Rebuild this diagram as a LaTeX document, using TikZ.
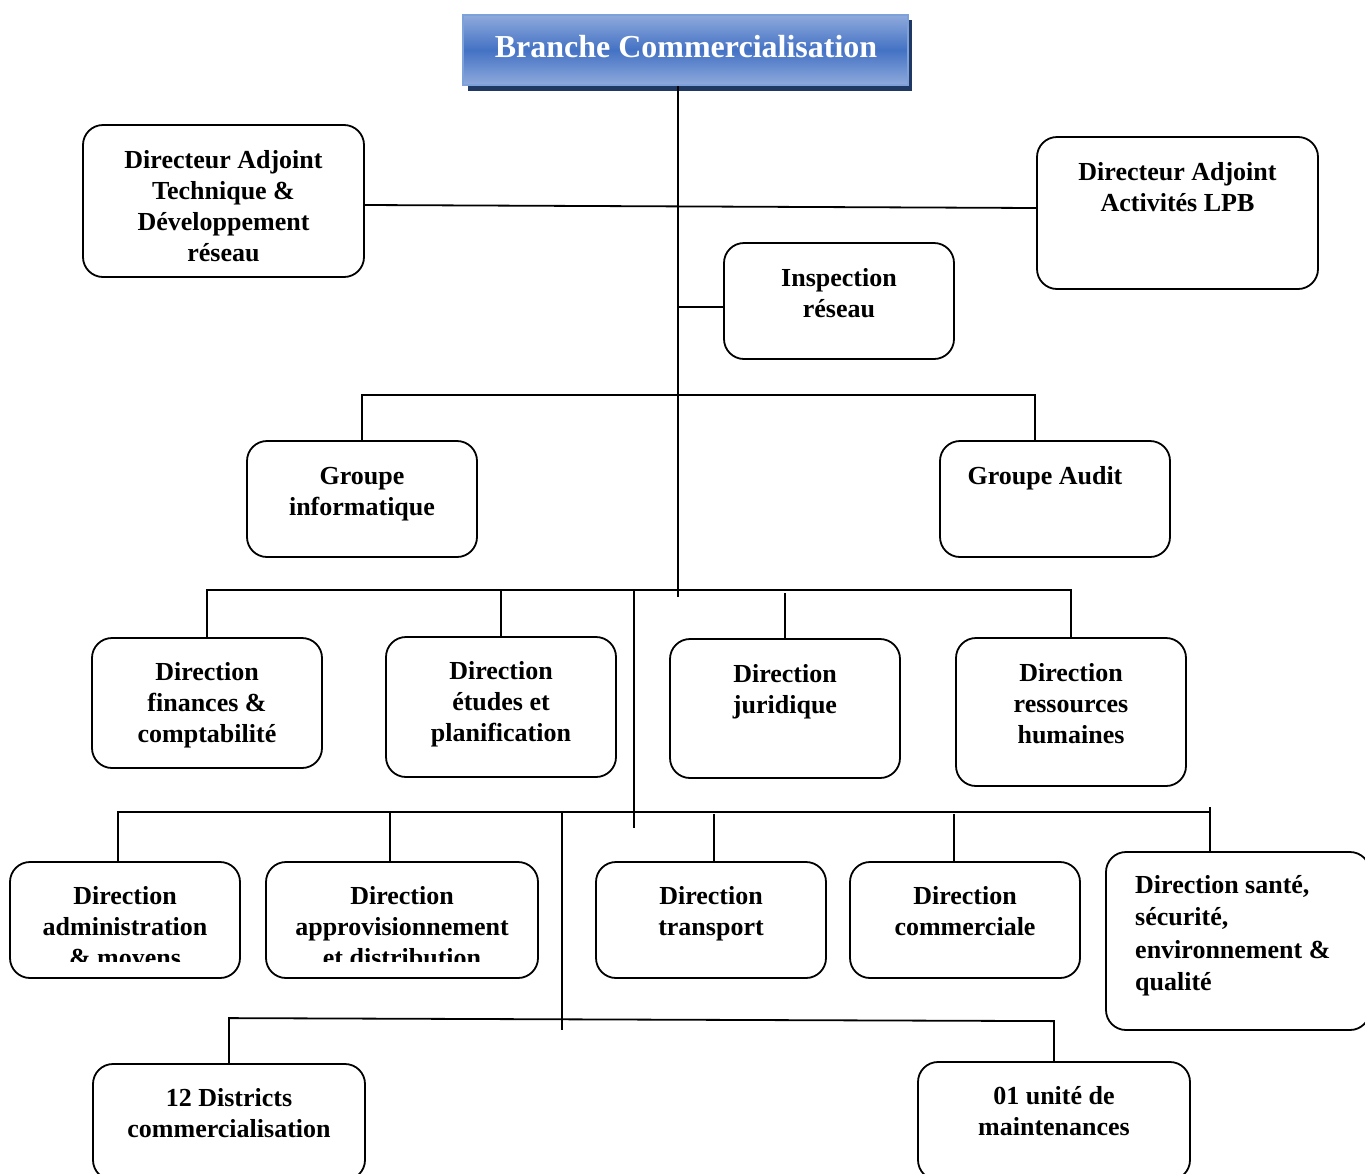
\documentclass[tikz,border=0pt]{standalone}
\usepackage{fontspec}
\setmainfont{Liberation Serif}
\definecolor{titlelight}{HTML}{8FAADC}
\definecolor{titledark}{HTML}{4472C4}
\definecolor{titleedge}{HTML}{7EA1DA}
\definecolor{titleshadow}{HTML}{1F3864}
\begin{document}
\begin{tikzpicture}[x=1pt,y=-1pt,
  box/.style={draw=black, line width=1.8pt, rounded corners=20pt, inner sep=0pt},
  txt/.style={anchor=north, inner sep=0pt, align=center,
    font=\fontsize{26}{31}\selectfont\bfseries},
  link/.style={draw=black, line width=1.8pt}]
\useasboundingbox (0,0) rectangle (1365,1173);
\clip (0,0) rectangle (1365,1173);
\fill[white] (0,0) rectangle (1365,1173);

% title block with drop shadow
\fill[titleshadow] (468,20) rectangle (912,91);
\node[draw=titleedge, line width=1.5pt, top color=titlelight, bottom color=titlelight,
  middle color=titledark, minimum width=445pt, minimum height=70pt, inner sep=0pt]
  (title) at (685.5,50) {};
\node[anchor=base, inner sep=0pt, text=white, font=\fontsize{32}{38}\selectfont\bfseries]
  (title-t) at (686,57) {Branche Commercialisation};

% deputy directors and inspection
\node[box, minimum width=281pt, minimum height=152pt] (dat) at (223.5,201) {};
\node[txt] (dat-t) at (223.5,146.3) {\strut Directeur Adjoint\\Technique \&\\Développement\\réseau};
\node[box, minimum width=281pt, minimum height=152pt] (dal) at (1177.5,213) {};
\node[txt] (dal-t) at (1177.5,158.3) {\strut Directeur Adjoint\\Activités LPB};
\node[box, minimum width=230pt, minimum height=116pt] (insp) at (839,301) {};
\node[txt] (insp-t) at (839,264.3) {\strut Inspection\\réseau};

% groups
\node[box, minimum width=230pt, minimum height=116pt] (gi) at (362,499) {};
\node[txt] (gi-t) at (362,462.3) {\strut Groupe\\informatique};
\node[box, minimum width=230pt, minimum height=116pt] (ga) at (1055,499) {};
\node[txt] (ga-t) at (1045,462.3) {\strut Groupe Audit};

% first row of directions
\node[box, minimum width=230pt, minimum height=130pt] (dfc) at (207,703) {};
\node[txt] (dfc-t) at (207,658.3) {\strut Direction\\finances \&\\comptabilité};
\node[box, minimum width=230pt, minimum height=140pt] (dep) at (501,707) {};
\node[txt] (dep-t) at (501,657.3) {\strut Direction\\études et\\planification};
\node[box, minimum width=230pt, minimum height=139pt] (dj) at (785,708.5) {};
\node[txt] (dj-t) at (785,660.3) {\strut Direction\\juridique};
\node[box, minimum width=230pt, minimum height=148pt] (drh) at (1071,712) {};
\node[txt] (drh-t) at (1071,659.3) {\strut Direction\\ressources\\humaines};

% second row of directions
\node[box, minimum width=230pt, minimum height=116pt] (dam) at (125,920) {};
\node[box, minimum width=272pt, minimum height=116pt] (dad) at (402,920) {};
\begin{scope}
  \clip (10,862) rectangle (538,961);
  \node[txt] (dam-t) at (125,882.3) {\strut Direction\\administration\\\& moyens};
  \node[txt] (dad-t) at (402,882.3) {\strut Direction\\approvisionnement\\et distribution};
\end{scope}
\node[box, minimum width=230pt, minimum height=116pt] (dt) at (711,920) {};
\node[txt] (dt-t) at (711,882.3) {\strut Direction\\transport};
\node[box, minimum width=230pt, minimum height=116pt] (dc) at (965,920) {};
\node[txt] (dc-t) at (965,882.3) {\strut Direction\\commerciale};
\node[box, minimum width=264pt, minimum height=178pt] (dsse) at (1238,941) {};
\node[txt, anchor=north west, align=left, font=\fontsize{26}{32.5}\selectfont\bfseries]
  (dsse-t) at (1135,870.25) {\strut Direction santé,\\sécurité,\\environnement \&\\qualité};

% regional units
\node[box, minimum width=272pt, minimum height=116pt] (d12) at (229,1122) {};
\node[txt] (d12-t) at (229,1084.3) {\strut 12 Districts\\commercialisation};
\node[box, minimum width=272pt, minimum height=118pt] (d01) at (1054,1121) {};
\node[txt] (d01-t) at (1054,1082.3) {\strut 01 unité de\\maintenances};

% junction points
\path ([xshift=-7.5pt]title.south) coordinate (tr);
\coordinate (trend) at (678,597);
\coordinate (b1) at (678,395);
\coordinate (b2) at (678,590);
\coordinate (v1top) at (634,590);
\coordinate (v1bot) at (634,828);
\coordinate (b3) at (634,812);
\coordinate (v2top) at (562,812);
\coordinate (v2bot) at (562,1030);
\path ([yshift=-6pt]insp.west) coordinate (iw);
\path ([xshift=-20pt]ga.north) coordinate (gan);
\path ([xshift=-7pt]dam.north) coordinate (damn);
\path ([xshift=-12pt]dad.north) coordinate (dadn);
\path ([xshift=3pt]dt.north) coordinate (dtn);
\path ([xshift=-11pt]dc.north) coordinate (dcn);
\path ([xshift=-28pt]dsse.north) coordinate (dssen);

% connectors
\draw[link] (tr) -- (trend);
\draw[link] ([yshift=-4pt]dat.east) -- ([yshift=5pt]dal.west);
\draw[link] (iw) -- (tr |- iw);
\draw[link] (gi.north) -- (gi.north |- b1) -- (gan |- b1) -- (gan);
\draw[link] (dfc.north) -- (dfc.north |- b2) -- (drh.north |- b2) -- (drh.north);
\draw[link] (dep.north) -- (dep.north |- b2);
\draw[link] (dj.north) -- ++(0,-45);
\draw[link] (v1top) -- (v1bot);
\draw[link] (damn) -- (damn |- b3) -- (dssen |- b3);
\draw[link] (dssen) -- ++(0,-44);
\draw[link] (dadn) -- (dadn |- b3);
\draw[link] (dtn) -- ++(0,-47);
\draw[link] (dcn) -- ++(0,-47);
\draw[link] (v2top) -- (v2bot);
\draw[link] (d12.north) -- ++(0,-45) -- ([yshift=40pt]d01.north) -- (d01.north);
\end{tikzpicture}
\end{document}
